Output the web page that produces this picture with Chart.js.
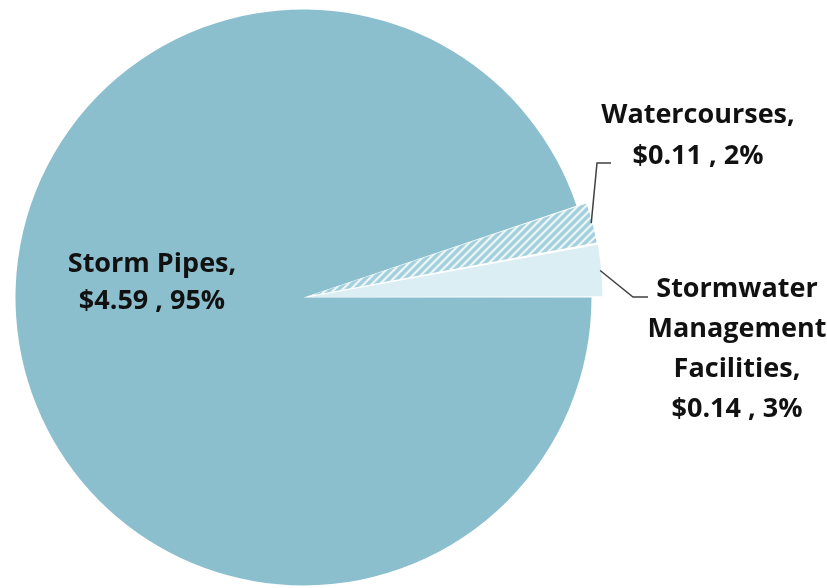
<!DOCTYPE html>
<html>
<head>
<meta charset="utf-8">
<script src="https://cdn.jsdelivr.net/npm/chart.js@4.4.1/dist/chart.umd.min.js"></script>
<style>
  html, body { margin: 0; padding: 0; background: #ffffff; }
  #wrap { width: 827px; height: 588px; position: relative; }
</style>
</head>
<body>
<div id="wrap"><canvas id="pie" width="827" height="588"></canvas></div>
<script>
// Stormwater asset replacement value ($ billions) by asset class
const categories = ['Storm Pipes', 'Watercourses', 'Stormwater Management Facilities'];
const values = [4.59, 0.11, 0.14];
const percentLabels = ['95%', '2%', '3%'];
const valueLabels = ['$4.59', '$0.11', '$0.14'];

// Label text lines for each slice
const labelLines = [
  ['Storm Pipes,', valueLabels[0] + ' , ' + percentLabels[0]],
  ['Watercourses,', valueLabels[1] + ' , ' + percentLabels[1]],
  ['Stormwater', 'Management', 'Facilities,', valueLabels[2] + ' , ' + percentLabels[2]]
];

// Label placement: centre x and first baseline of the text block, plus leader elbow
const labelLayout = [
  { x: 152, y: 272, lineHeight: 37, leader: null },
  { x: 698, y: 123, lineHeight: 41, leader: { elbow: [597, 163], end: [611, 163] } },
  { x: 737, y: 297, lineHeight: 40, leader: { elbow: [633, 297], end: [648, 297] } }
];

function hatchPattern() {
  const c = document.createElement('canvas');
  const s = 8;
  c.width = s; c.height = s;
  const g = c.getContext('2d');
  g.fillStyle = '#ffffff';
  g.fillRect(0, 0, s, s);
  g.strokeStyle = '#a2d0dc';
  g.lineWidth = 3.8;
  g.beginPath();
  g.moveTo(-s, s); g.lineTo(s, -s);
  g.moveTo(0, s); g.lineTo(s, 0);
  g.moveTo(0, 2 * s); g.lineTo(2 * s, 0);
  g.stroke();
  return g.createPattern(c, 'repeat');
}

const sliceLabels = {
  id: 'sliceLabels',
  afterDraw(chart) {
    const ctx = chart.ctx;
    const meta = chart.getDatasetMeta(0);
    ctx.save();
    ctx.font = 'bold 27px "Open Sans", Arial, sans-serif';
    ctx.fillStyle = '#111111';
    ctx.textAlign = 'center';
    ctx.textBaseline = 'alphabetic';
    labelLayout.forEach((lay, i) => {
      const lines = labelLines[i];
      lines.forEach((t, k) => ctx.fillText(t, lay.x, lay.y + k * lay.lineHeight));
      if (lay.leader) {
        const arc = meta.data[i];
        const mid = (arc.startAngle + arc.endAngle) / 2;
        // ArcElement shifts an exploded slice by offset/4 and widens its radius by offset/4 * fix
        const o = (arc.options.offset || 0) / 4;
        const fix = 1 - Math.sin(Math.min(Math.PI, arc.circumference || 0));
        const r = arc.outerRadius + o * (1 + fix) - 1;
        const sx = arc.x + Math.cos(mid) * r;
        const sy = arc.y + Math.sin(mid) * r;
        ctx.strokeStyle = '#404040';
        ctx.lineWidth = 1.5;
        ctx.beginPath();
        ctx.moveTo(sx, sy);
        ctx.lineTo(lay.leader.elbow[0], lay.leader.elbow[1]);
        ctx.lineTo(lay.leader.end[0], lay.leader.end[1]);
        ctx.stroke();
      }
    });
    ctx.restore();
  }
};

new Chart(document.getElementById('pie'), {
  type: 'pie',
  data: {
    labels: categories,
    datasets: [{
      data: values,
      backgroundColor: ['#8cbfcd', hatchPattern(), '#daeef3'],
      borderWidth: 0,
      offset: [0, 22, 24]
    }]
  },
  options: {
    responsive: false,
    animation: false,
    rotation: 90,
    radius: 288,
    layout: { padding: { left: 0, right: 220, top: 7, bottom: 0 } },
    plugins: {
      legend: { display: false },
      tooltip: { enabled: false }
    }
  },
  plugins: [sliceLabels]
});
</script>
</body>
</html>
